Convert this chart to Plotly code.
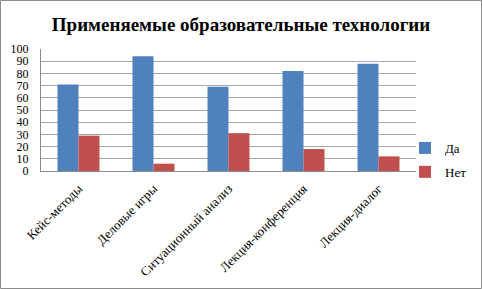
import plotly.graph_objects as go

categories = ["Кейс-методы", "Деловые игры", "Ситуационный анализ", "Лекция-конференция", "Лекция-диалог"]
yes_values = [71, 94, 69, 82, 88]
no_values = [29, 6, 31, 18, 12]
y_ticks = [0, 10, 20, 30, 40, 50, 60, 70, 80, 90, 100]

W, H = 482, 289
L, R, T, B = 41, 416, 49, 171
SERIF = "Liberation Serif, Times New Roman, serif"

fig = go.Figure()
fig.add_trace(go.Bar(name="Да", x=categories, y=yes_values, legendgroup="a",
                     marker=dict(color="#4F81BD", line=dict(width=0))))
fig.add_trace(go.Bar(name="Нет", x=categories, y=no_values, legendgroup="b",
                     marker=dict(color="#C0504D", line=dict(width=0))))

pw, ph = R - L, B - T
fig.add_shape(type="rect", xref="paper", yref="paper",
              x0=(0.5 - L) / pw, x1=(W - 0.5 - L) / pw,
              y0=(B - (H - 0.5)) / ph, y1=(B - 0.5) / ph,
              line=dict(color="#8C8C8C", width=1), fillcolor="rgba(0,0,0,0)", layer="below")

fig.update_layout(
    width=W, height=H,
    margin=dict(l=L, r=W - R, t=T, b=H - B, pad=0, autoexpand=False),
    paper_bgcolor="white", plot_bgcolor="white",
    font=dict(family=SERIF, size=13, color="black"),
    title=dict(text="<b>Применяемые образовательные технологии</b>", x=0.5, xanchor="center",
               xref="container", y=1 - 24 / H, yanchor="middle", yref="container",
               font=dict(size=19, family=SERIF)),
    barmode="group", bargap=0.44, bargroupgap=0,
    showlegend=True,
    legend=dict(xref="container", yref="container", x=405 / W, y=1 - 133 / H,
                xanchor="left", yanchor="top", tracegroupgap=4,
                font=dict(size=13, family=SERIF), itemwidth=30, bgcolor="rgba(0,0,0,0)"),
    xaxis=dict(tickangle=-45, showline=True, linecolor="#8C8C8C", ticks="", automargin=False,
               ticklabelstandoff=4, tickfont=dict(size=13, family=SERIF)),
    yaxis=dict(range=[0, 100], tickvals=y_ticks, showgrid=True, gridcolor="#A6A6A6", gridwidth=1,
               showline=True, linecolor="#8C8C8C", ticks="", automargin=False,
               ticklabelstandoff=9, tickfont=dict(size=12, family=SERIF), zeroline=False),
)

fig.write_html("out.html", config={"displayModeBar": False},
               post_script="document.body.style.margin='0';document.body.style.padding='0';")
